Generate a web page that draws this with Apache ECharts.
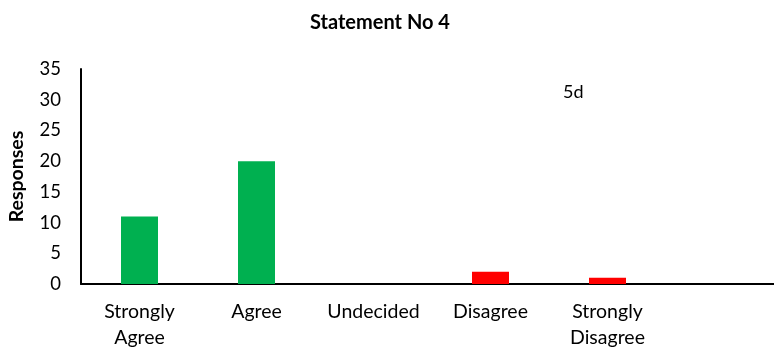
<!DOCTYPE html>
<html>
<head>
<meta charset="utf-8">
<script src="https://cdn.jsdelivr.net/npm/echarts@6/dist/echarts.min.js"></script>
<style>html,body{margin:0;padding:0;background:#fff;}#c{width:774px;height:349px;}</style>
</head>
<body>
<div id="c"></div>
<script>
const categories = ['Strongly\nAgree', 'Agree', 'Undecided', 'Disagree', 'Strongly\nDisagree', ''];
const responses = [11, 20, 0, 2, 1, null];
const barColors = ['#00B050', '#00B050', '#00B050', '#FF0000', '#FF0000', '#FF0000'];
const yTicks = [0, 5, 10, 15, 20, 25, 30, 35];

const chart = echarts.init(document.getElementById('c'));
chart.setOption({
  animation: false,
  textStyle: { fontFamily: 'Lato' },
  title: {
    text: 'Statement No 4',
    left: 375, top: 8, textAlign: 'center',
    textStyle: { fontSize: 20, fontWeight: 'bold', color: '#000', fontFamily: 'Lato' }
  },
  grid: { left: 81, width: 702, top: 69, bottom: 65, outerBoundsMode: 'none' },
  xAxis: {
    type: 'category',
    data: categories,
    axisLine: { lineStyle: { color: '#000', width: 2 } },
    axisTick: { show: false },
    axisLabel: { color: '#000', fontSize: 19.5, lineHeight: 26, margin: 15, interval: 0 }
  },
  yAxis: {
    type: 'value',
    min: yTicks[0], max: yTicks[yTicks.length - 1], interval: 5,
    name: 'Responses', nameLocation: 'middle', nameGap: 54, nameRotate: 90,
    nameTextStyle: { fontSize: 19.5, fontWeight: 'bold', color: '#000' },
    axisLine: { show: true, lineStyle: { color: '#000', width: 2 } },
    axisTick: { show: false },
    splitLine: { show: false },
    axisLabel: { color: '#000', fontSize: 18.5, margin: 20 }
  },
  series: [{
    type: 'bar',
    data: responses.map((v, i) => ({ value: v, itemStyle: { color: barColors[i] } })),
    barWidth: 37
  }],
  graphic: [{
    type: 'text', left: 563, top: 83,
    style: { text: '5d', fontSize: 18, fill: '#000', fontFamily: 'Lato' }
  }]
});
</script>
</body>
</html>
